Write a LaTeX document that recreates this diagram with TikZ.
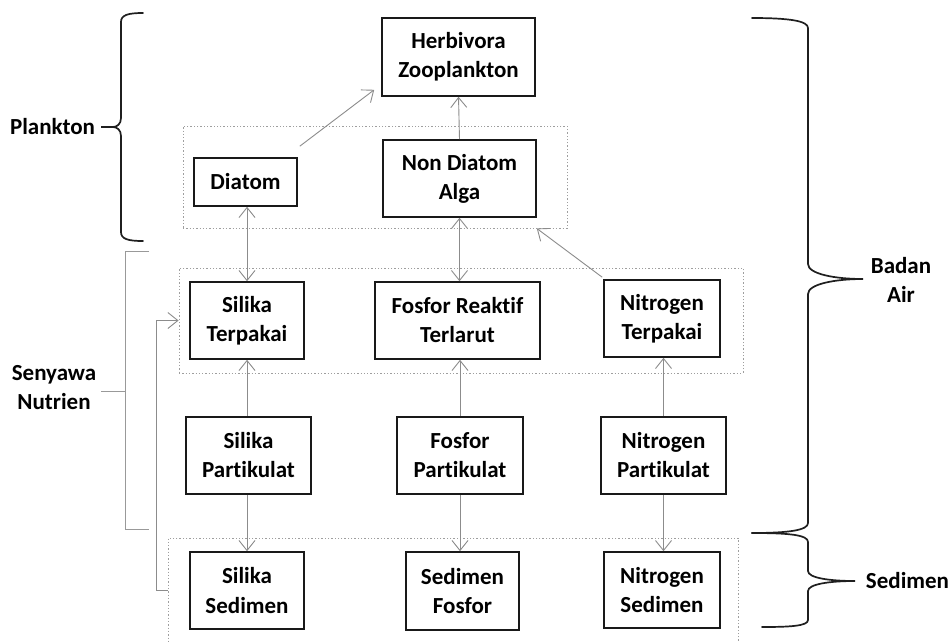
\documentclass[tikz,border=0pt]{standalone}
\usepackage{fontspec}
\setmainfont{Carlito}[Ligatures={NoCommon,NoRare}]
\usetikzlibrary{arrows.meta,calc}

\tikzset{
  lbl/.style={font=\fontsize{23}{29}\selectfont\bfseries, align=center, inner sep=0pt},
  stock/.style={lbl, draw=black!90, line width=1.6pt, fill=white},
  grp/.style={draw=black!38, line width=0.9pt, dash pattern=on 1.3pt off 2pt, inner sep=0pt},
  flow/.style={draw=black!45, line width=0.9pt, -{Straight Barb[length=10pt,width=16pt]}},
  flow2/.style={draw=black!45, line width=0.9pt, {Straight Barb[length=10pt,width=16pt]}-{Straight Barb[length=10pt,width=16pt]}},
  brace/.style={draw=black!88, line width=1.7pt, line cap=round},
  bracket/.style={draw=black!40, line width=1pt}
}

\begin{document}
\begin{tikzpicture}[x=1pt,y=-1pt]
\clip (0,0) rectangle (952,641);
\fill[white] (0,0) rectangle (952,641);

% compartment groups (dotted frames)
\node[grp, minimum width=384, minimum height=102] (plk) at (375,177) {};
\node[grp, minimum width=564, minimum height=105] (nut) at (461,320.5) {};
\node[grp, minimum width=570, minimum height=130] (sed) at (453,603) {};

% plankton
\node[stock, minimum width=153, minimum height=78] (herb) at (458.5,57) {Herbivora\\Zooplankton};
\node[stock, minimum width=103, minimum height=48] (diatom) at (245.5,182) {Diatom};
\node[stock, minimum width=153, minimum height=77] (nondia) at (459.5,178.5) {Non Diatom\\Alga};

% dissolved nutrients
\node[stock, minimum width=114, minimum height=77] (silterp) at (247,320.5) {Silika\\Terpakai};
\node[stock, minimum width=165, minimum height=77] (fosreak) at (457.5,320.5) {Fosfor Reaktif\\Terlarut};
\node[stock, minimum width=116, minimum height=77] (nitterp) at (662,318.5) {Nitrogen\\Terpakai};

% particulate nutrients
\node[stock, minimum width=125, minimum height=77] (silpart) at (248.5,455.5) {Silika\\Partikulat};
\node[stock, minimum width=126, minimum height=77] (fospart) at (460,455.5) {Fosfor\\Partikulat};
\node[stock, minimum width=125, minimum height=77] (nitpart) at (663.5,455.5) {Nitrogen\\Partikulat};

% sediment
\node[stock, minimum width=114, minimum height=77] (silsed) at (247,590.5) {Silika\\Sedimen};
\node[stock, minimum width=113, minimum height=78] (sedfos) at (462.5,591) {Sedimen\\Fosfor};
\node[stock, minimum width=116, minimum height=76] (nitsed) at (662,590) {Nitrogen\\Sedimen};

% flows
\draw[flow] ($(diatom.north east)+(2,-11)$) -- ($(herb.south west)+(-7,-7)$);
\draw[flow] (nondia.north) -- (herb.south);
\draw[flow2] (diatom.south -| silterp.north) -- (silterp.north);
\draw[flow2] (nondia.south) -- (nondia.south |- fosreak.north);
\draw[flow] ($(nitterp.north west)+(-1,-2)$) -- (plk.south -| nondia.east);

\draw[flow] (silterp.south |- silpart.north) -- (silterp.south);
\draw[flow] (fospart.north) -- (fospart.north |- fosreak.south);
\draw[flow] (nitpart.north) -- (nitpart.north |- nitterp.south);

\draw[flow] (silsed.north |- silpart.south) -- (silsed.north);
\draw[flow] (fospart.south) -- (fospart.south |- sedfos.north);
\draw[flow] (nitpart.south) -- (nitpart.south |- nitsed.north);

% recycling from sediment back to dissolved silica
\coordinate (recyc) at ($(sed.west |- silsed)+(-11,0)$);
\draw[flow] (sed.west |- silsed) -- (recyc) |- (nut.west |- silterp);

% Plankton brace
\draw[brace] (143,13) .. controls (128,13) and (121,15) .. (121,22)
  -- (121,118) .. controls (121,124) and (117,127) .. (113,127)
  .. controls (117,127) and (121,130) .. (121,136)
  -- (121,232) .. controls (121,239) and (128,241) .. (143,241);
\node[lbl] (plankton) at (52.5,127) {Plankton};
\draw[brace, line cap=butt] (plankton.east) ++(6,0) coordinate (ptail) -- (113,127);

% Senyawa Nutrien bracket
\draw[bracket] (149,251) -- (125,251) -- (125,529) -- (149,529);
\node[lbl] (senyawa) at (54,388) {Senyawa\\Nutrien};
\draw[bracket] (101,391) -- (125,391);

% Badan Air brace
\draw[brace] (752,18) .. controls (790,18) and (808,21) .. (808,28)
  -- (808,264) .. controls (808,274) and (835,279) .. (863,279)
  .. controls (835,279) and (808,284) .. (808,294)
  -- (808,523) .. controls (808,530) and (790,533) .. (752,533);
\node[lbl] (badan) at (901,280) {Badan\\Air};

% Sedimen brace
\draw[brace] (752,533) .. controls (790,533) and (808,535) .. (808,542)
  -- (808,571) .. controls (808,578) and (830,581) .. (855,581)
  .. controls (830,581) and (808,584) .. (808,591)
  -- (808,620) .. controls (808,626) and (790,627) .. (762,627);
\node[lbl] (sedimen) at (907.5,581) {Sedimen};

\end{tikzpicture}
\end{document}
